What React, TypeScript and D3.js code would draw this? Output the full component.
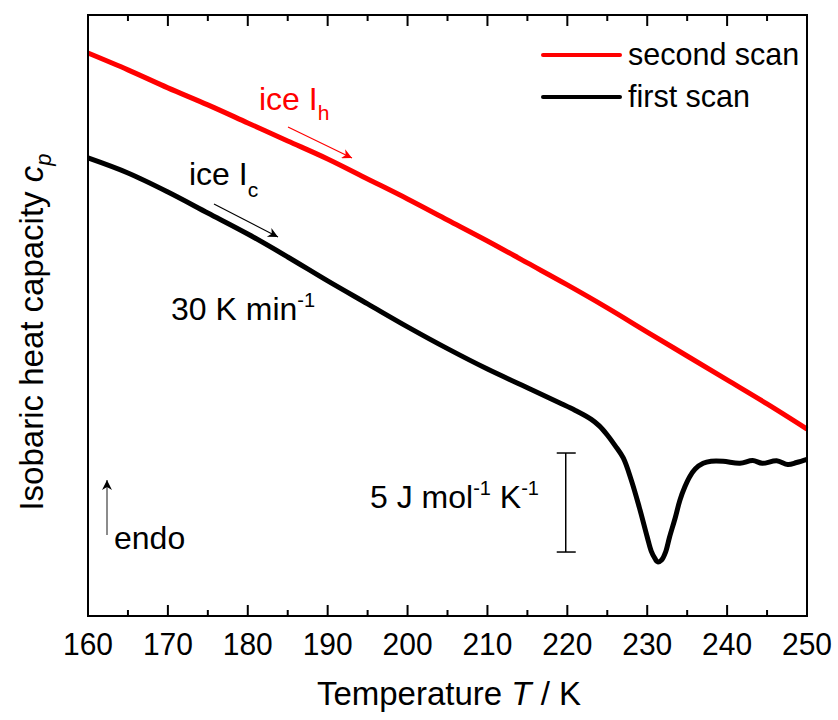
import React, { useRef, useEffect } from "react";
import * as d3 from "d3";

// temperature (K) and relative heat capacity (J mol-1 K-1, arbitrary offset)
const secondScanT = [160, 165, 170, 175, 180, 185, 190, 195, 200, 205, 210, 215, 220, 225, 230, 235, 240, 245, 250];
const secondScanCp = [28.38, 27.53, 26.62, 25.76, 24.85, 23.94, 23.03, 22.02, 21.01, 19.95, 18.89, 17.78, 16.67, 15.51, 14.29, 13.08, 11.87, 10.66, 9.39];

const firstScanT = [
  160, 165, 170, 175, 180, 185, 190, 195, 200, 205, 210, 215, 219, 221, 223, 224, 225, 226, 227, 228, 229, 230,
  230.5, 231, 231.3, 231.8, 232.3, 232.8, 233.5, 234.1, 234.7, 235.3, 236, 237, 238, 239.5, 241.6, 243.2, 244.4,
  246.2, 247.6, 248.7, 250,
];
const firstScanCp = [
  23.08, 22.32, 21.36, 20.3, 19.24, 18.08, 16.87, 15.71, 14.55, 13.45, 12.42, 11.48, 10.72, 10.33, 9.88, 9.55, 9.09,
  8.54, 7.93, 6.82, 5.45, 3.94, 3.23, 2.83, 2.68, 2.78, 3.18, 3.94, 4.9, 5.81, 6.46, 6.97, 7.37, 7.66, 7.76, 7.76,
  7.66, 7.8, 7.66, 7.79, 7.6, 7.7, 7.86,
];

const xTicks = [160, 170, 180, 190, 200, 210, 220, 230, 240, 250];
const xMinorTicks = [165, 175, 185, 195, 205, 215, 225, 235, 245];

// scale bar: 5 J mol-1 K-1
const scaleBarFrom = 3.18;
const scaleBarSize = 5;
const scaleBarT = 219.8;

const FONT = "'Liberation Sans', Arial, sans-serif";

const App = () => {
  const svgRef = useRef(null);

  useEffect(() => {
    const left = 88, right = 807, top = 15, bottom = 616;
    const svg = d3.select(svgRef.current);
    svg.selectAll("*").remove();

    const x = d3.scaleLinear().domain([160, 250]).range([left, right]);
    const y = d3.scaleLinear().domain([0, 30.35]).range([615, 14]);

    const defs = svg.append("defs");
    const mk = (id, color) =>
      defs
        .append("marker")
        .attr("id", id)
        .attr("viewBox", "0 0 10 10")
        .attr("refX", 10)
        .attr("refY", 5)
        .attr("markerWidth", 14)
        .attr("markerHeight", 10)
        .attr("markerUnits", "userSpaceOnUse")
        .attr("orient", "auto")
        .append("path")
        .attr("d", "M0,0 L10,5 L0,10 L3,5 Z")
        .attr("fill", color);
    mk("arrRed", "#ff0000");
    mk("arrBlack", "#000");

    const line = d3
      .line()
      .x((d) => x(d[0]))
      .y((d) => y(d[1]))
      .curve(d3.curveCatmullRom);

    svg
      .append("path")
      .datum(firstScanT.map((t, i) => [t, firstScanCp[i]]))
      .attr("d", line)
      .attr("fill", "none")
      .attr("stroke", "#000")
      .attr("stroke-width", 5)
      .attr("stroke-linejoin", "round");

    svg
      .append("path")
      .datum(secondScanT.map((t, i) => [t, secondScanCp[i]]))
      .attr("d", line)
      .attr("fill", "none")
      .attr("stroke", "#ff0000")
      .attr("stroke-width", 5);

    // frame
    svg
      .append("rect")
      .attr("x", left)
      .attr("y", top)
      .attr("width", right - left)
      .attr("height", bottom - top)
      .attr("fill", "none")
      .attr("stroke", "#000")
      .attr("stroke-width", 2);

    // ticks (inward on bottom and top)
    const g = svg.append("g").attr("stroke", "#000").attr("stroke-width", 2);
    xTicks.forEach((t) => {
      g.append("line").attr("x1", x(t)).attr("x2", x(t)).attr("y1", bottom).attr("y2", bottom - 11);
      g.append("line").attr("x1", x(t)).attr("x2", x(t)).attr("y1", top).attr("y2", top + 11);
    });
    xMinorTicks.forEach((t) => {
      g.append("line").attr("x1", x(t)).attr("x2", x(t)).attr("y1", bottom).attr("y2", bottom - 6);
      g.append("line").attr("x1", x(t)).attr("x2", x(t)).attr("y1", top).attr("y2", top + 6);
    });

    svg
      .append("g")
      .selectAll("text")
      .data(xTicks)
      .enter()
      .append("text")
      .attr("x", (d) => x(d))
      .attr("y", 655)
      .attr("text-anchor", "middle")
      .attr("font-family", FONT)
      .attr("font-size", 32)
      .attr("textLength", 50)
      .attr("lengthAdjust", "spacingAndGlyphs")
      .text((d) => d);

    // axis titles
    const xt = svg
      .append("text")
      .attr("x", 449)
      .attr("y", 705)
      .attr("text-anchor", "middle")
      .attr("font-family", FONT)
      .attr("font-size", 33);
    xt.append("tspan").text("Temperature ");
    xt.append("tspan").attr("font-style", "italic").text("T");
    xt.append("tspan").text(" / K");

    const yt = svg
      .append("text")
      .attr("transform", "translate(43,332) rotate(-90)")
      .attr("text-anchor", "middle")
      .attr("font-family", FONT)
      .attr("font-size", 33);
    yt.append("tspan").text("Isobaric heat capacity ");
    yt.append("tspan").attr("font-style", "italic").text("c");
    yt.append("tspan").attr("font-style", "italic").attr("font-size", 22).attr("dy", 8).text("p");

    // legend
    const legend = [
      { label: "second scan", color: "#ff0000", yy: 55 },
      { label: "first scan", color: "#000", yy: 97 },
    ];
    legend.forEach((l) => {
      svg
        .append("line")
        .attr("x1", 543)
        .attr("x2", 620)
        .attr("y1", l.yy)
        .attr("y2", l.yy)
        .attr("stroke", l.color)
        .attr("stroke-width", 4)
        .attr("stroke-linecap", "round");
      svg
        .append("text")
        .attr("x", 628)
        .attr("y", l.yy + 10)
        .attr("font-family", FONT)
        .attr("font-size", 30.5)
        .text(l.label);
    });

    // annotations
    const ih = svg.append("text").attr("x", 259).attr("y", 110).attr("font-family", FONT).attr("font-size", 32).attr("fill", "#ff0000");
    ih.append("tspan").text("ice I");
    ih.append("tspan").attr("font-size", 21).attr("dy", 10).text("h");

    const ic = svg.append("text").attr("x", 189).attr("y", 185).attr("font-family", FONT).attr("font-size", 32).attr("fill", "#000");
    ic.append("tspan").text("ice I");
    ic.append("tspan").attr("font-size", 21).attr("dy", 12).text("c");

    svg
      .append("line")
      .attr("x1", 288).attr("y1", 127).attr("x2", 352).attr("y2", 158)
      .attr("stroke", "#ff0000").attr("stroke-width", 1.2)
      .attr("marker-end", "url(#arrRed)");
    svg
      .append("line")
      .attr("x1", 214).attr("y1", 204).attr("x2", 278).attr("y2", 237)
      .attr("stroke", "#000").attr("stroke-width", 1.2)
      .attr("marker-end", "url(#arrBlack)");

    const rate = svg.append("text").attr("x", 171).attr("y", 320).attr("font-family", FONT).attr("font-size", 32);
    rate.append("tspan").text("30 K min");
    rate.append("tspan").attr("font-size", 20).attr("dy", -13).text("-1");

    // endo arrow
    svg
      .append("line")
      .attr("x1", 107).attr("y1", 535).attr("x2", 107).attr("y2", 480)
      .attr("stroke", "#666").attr("stroke-width", 1.5)
      .attr("marker-end", "url(#arrBlack)");
    svg.append("text").attr("x", 114).attr("y", 549).attr("font-family", FONT).attr("font-size", 32).text("endo");

    // scale bar
    const sb = svg.append("g").attr("stroke", "#000").attr("stroke-width", 1.5);
    const sx = x(scaleBarT);
    sb.append("line").attr("x1", sx).attr("x2", sx).attr("y1", y(scaleBarFrom)).attr("y2", y(scaleBarFrom + scaleBarSize));
    [scaleBarFrom, scaleBarFrom + scaleBarSize].forEach((v) => {
      sb.append("line").attr("x1", sx - 9).attr("x2", sx + 10).attr("y1", y(v)).attr("y2", y(v));
    });
    const st = svg.append("text").attr("x", 370).attr("y", 508).attr("font-family", FONT).attr("font-size", 32);
    st.append("tspan").text("5 J mol");
    st.append("tspan").attr("font-size", 20).attr("dy", -13).text("-1");
    st.append("tspan").attr("dy", 13).text(" K");
    st.append("tspan").attr("font-size", 20).attr("dy", -13).text("-1");
  }, []);

  return (
    <svg
      ref={svgRef}
      width={838}
      height={720}
      style={{ position: "absolute", left: 0, top: 0, background: "#fff" }}
    />
  );
};

export default App;
